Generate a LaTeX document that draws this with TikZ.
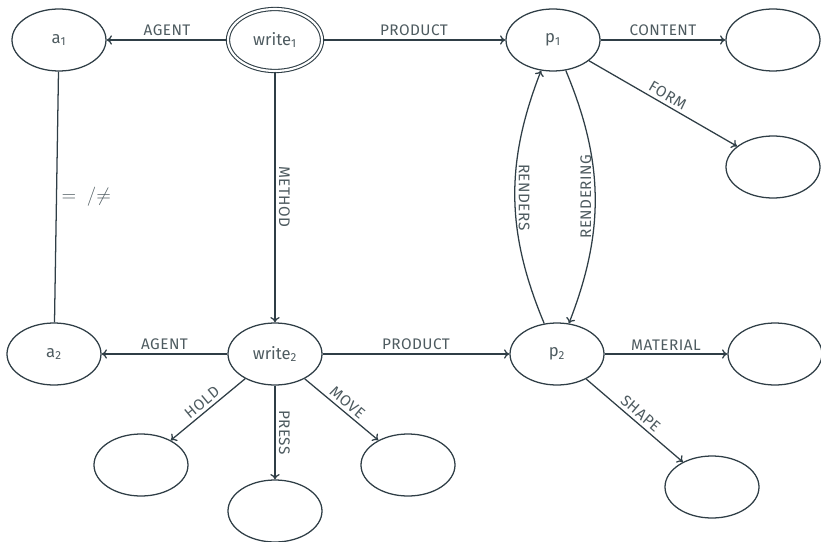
\documentclass[tikz,border=0pt]{standalone}
\usepackage{fontspec}
\setmainfont{Fira Sans}
\newfontfamily\lblfont[LetterSpace=3]{Fira Sans}
\usepackage{tikz}
\usetikzlibrary{positioning, arrows.meta, shapes.geometric}
\definecolor{inkline}{HTML}{2F3E46}
\definecolor{inktext}{HTML}{4E5B60}

\begin{document}
\begin{tikzpicture}[
    ellnode/.style={ellipse, draw=inkline, line width=0.95pt, minimum width=70.5pt, minimum height=46.5pt, inner sep=0pt, text=inktext, font=\fontsize{12.5}{14}\selectfont},
    edge/.style={draw=inkline, line width=0.95pt, -{To[length=4pt, width=7pt]}},
    lbl/.style={text=inktext, font=\lblfont\fontsize{11.5}{13}\selectfont, inner sep=2.5pt},
    on grid,
]
\useasboundingbox (-206.25pt,-376.5pt) rectangle (409.5pt,30pt);
\node[ellnode, double, double distance=1.6pt, line width=0.8pt](w1){write\textsubscript{1}};
\node[ellnode](a1)[left = 162pt of w1]{a\textsubscript{1}};
\node[ellnode](p1)[right = 208.5pt of w1]{p\textsubscript{1}};
\node[ellnode](content)[right = 165pt of p1]{};
\node[ellnode](form)[below right = 95.25pt and 165pt of p1]{};
\node[ellnode](w2)[below = 235.5pt of w1]{write\textsubscript{2}};
\node[ellnode](a2)[left = 165.75pt of w2]{a\textsubscript{2}};
\node[ellnode](p2)[right = 211.5pt of w2]{p\textsubscript{2}};
\node[ellnode](material)[right = 163.5pt of p2]{};
\node[ellnode](shape)[below right = 99.75pt and 116.25pt of p2]{};
\node[ellnode](hold)[below left = 83.25pt and 100.5pt of w2]{};
\node[ellnode](press)[below = 117.75pt of w2]{};
\node[ellnode](move)[below right = 83.25pt and 99.75pt of w2]{};

\draw[edge] (w1) -- node[lbl, above]{AGENT} (a1);
\draw[edge] (w1) -- node[lbl, above]{PRODUCT} (p1);
\draw[edge] (p1) -- node[lbl, above]{CONTENT} (content);
\draw[edge] (p1) -- node[lbl, above, sloped]{FORM} (form);
\draw[edge] (w1) -- node[lbl, above, sloped]{METHOD} (w2);
\draw[draw=inkline, line width=0.95pt] (a1) -- node[right, text=inktext, font=\fontsize{13.5}{15}\selectfont]{$=\;/{\neq}$} (a2);
\draw[edge] (p2) to[bend left=22] node[lbl, midway, anchor=south, rotate=-90]{RENDERS} (p1);
\draw[edge] (p1) to[bend left=22] node[lbl, midway, anchor=south, rotate=90]{RENDERING} (p2);
\draw[edge] (w2) -- node[lbl, above]{AGENT} (a2);
\draw[edge] (w2) -- node[lbl, above]{PRODUCT} (p2);
\draw[edge] (p2) -- node[lbl, above]{MATERIAL} (material);
\draw[edge] (p2) -- node[lbl, above, sloped]{SHAPE} (shape);
\draw[edge] (w2) -- node[lbl, above, sloped]{HOLD} (hold);
\draw[edge] (w2) -- node[lbl, above, sloped]{PRESS} (press);
\draw[edge] (w2) -- node[lbl, above, sloped]{MOVE} (move);
\end{tikzpicture}
\end{document}
